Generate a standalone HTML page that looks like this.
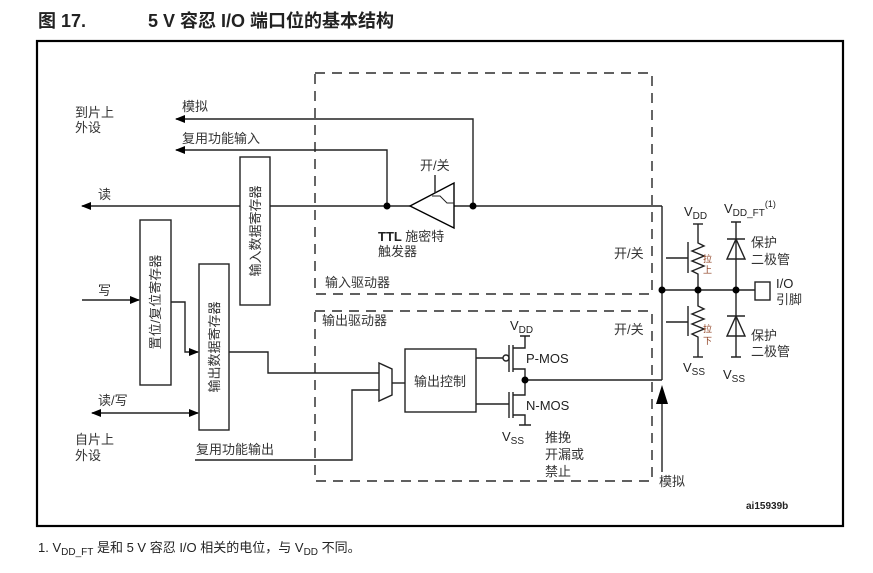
<!DOCTYPE html>
<html><head><meta charset="utf-8"><style>
body{margin:0;background:#fff;}
svg{display:block;}
text{font-family:"Liberation Sans","Noto Sans CJK SC",sans-serif;fill:#222;}
.c{font-size:13px;fill:#333;}
</style></head><body>
<svg width="873" height="573" viewBox="0 0 873 573" xmlns="http://www.w3.org/2000/svg">
<defs>
<marker id="a" markerWidth="10" markerHeight="8" refX="9" refY="4" orient="auto" markerUnits="userSpaceOnUse"><path d="M0,0 L10,4 L0,8z" fill="#000"/></marker>
<marker id="as" markerWidth="10" markerHeight="8" refX="1" refY="4" orient="auto" markerUnits="userSpaceOnUse"><path d="M10,0 L0,4 L10,8z" fill="#000"/></marker>
</defs>
<text x="38" y="27" font-size="18" font-weight="bold">图 17.</text>
<text x="148" y="27" font-size="18" font-weight="bold">5 V 容忍 I/O 端口位的基本结构</text>
<rect x="37" y="41" width="806" height="485" fill="none" stroke="#000" stroke-width="2.2"/>
<g fill="none" stroke="#000" stroke-width="1.2" stroke-dasharray="10,7">
<path d="M315,73 H652 V294 H315 Z"/>
<path d="M315,311 H652 V481 H315 Z"/>
</g>
<g fill="none" stroke="#222" stroke-width="1.4">
<path d="M473,206 V119 H176" marker-end="url(#a)"/>
<path d="M387,206 V150 H176" marker-end="url(#a)"/>
<line x1="410" y1="206" x2="82" y2="206" marker-end="url(#a)"/>
<line x1="454" y1="206" x2="662" y2="206"/>
<line x1="662" y1="206" x2="662" y2="380"/>
<path d="M410,206 L454,183 L454,228 Z" stroke="#000"/>
<path d="M435,193 V175" />
<path d="M432,196 H440 L447,203 H454 M440,196 L447,203" stroke-width="1"/>
<line x1="82" y1="300" x2="139" y2="300" marker-end="url(#a)"/>
<path d="M171,302 H185 V352 H198" marker-end="url(#a)"/>
<line x1="92" y1="413" x2="198" y2="413" marker-end="url(#a)" marker-start="url(#as)"/>
<path d="M229,352 H268 V373 H379"/>
<path d="M195,460 H352 V390 H379"/>
<path d="M379,363 L392,369 L392,395 L379,401 Z"/>
<line x1="392" y1="383" x2="405" y2="383"/>
<rect x="405" y="349" width="71" height="63"/>
<path d="M476,358 H503"/>
<circle cx="506" cy="358" r="3"/>
<path d="M509,345 V372 M513,345 V372 M513,348 H525 V336 M520,336 H530 M513,369 H525 V380"/>
<path d="M476,404 H509 M509,392 V418 M513,392 V418 M513,395 H525 V380 M513,415 H525 V425 M519,425 H531"/>
<line x1="525" y1="380" x2="662" y2="380"/>
<line x1="662" y1="472" x2="662" y2="395"/>
<line x1="662" y1="290" x2="755" y2="290"/>
<rect x="755" y="282" width="15" height="18"/>
<path d="M698,224 V243 L704,246 L692,251 L704,256 L692,261 L704,266 L692,271 L698,274 V290"/>
<path d="M693,224 H703"/>
<path d="M688,242 V273 M688,258 H666" />
<path d="M698,290 V306 L704,309 L692,314 L704,319 L692,324 L704,329 L692,334 L698,337 V357"/>
<path d="M693,357 H703"/>
<path d="M688,306 V336 M688,322 H666"/>
<path d="M736,222 V290 M731,222 H741 M727,239 H745 M736,239 L727,259 H745 Z"/>
<path d="M736,290 V357 M731,357 H741 M727,316 H745 M736,316 L727,336 H745 Z"/>
</g>
<g fill="#000">
<circle cx="387" cy="206" r="3.5"/><circle cx="473" cy="206" r="3.5"/>
<circle cx="525" cy="380" r="3.5"/>
<circle cx="662" cy="290" r="3.5"/><circle cx="698" cy="290" r="3.5"/><circle cx="736" cy="290" r="3.5"/>
<path d="M656,404 L662,385 L668,404 Z"/>
</g>
<g fill="#fff" stroke="#222" stroke-width="1.4">
<rect x="240" y="157" width="30" height="148"/>
<rect x="140" y="220" width="31" height="165"/>
<rect x="199" y="264" width="30" height="166"/>
</g>
<text class="c" transform="translate(260,231) rotate(-90)" text-anchor="middle">输入数据寄存器</text>
<text class="c" transform="translate(160,302) rotate(-90)" text-anchor="middle">置位/复位寄存器</text>
<text class="c" transform="translate(219,347) rotate(-90)" text-anchor="middle">输出数据寄存器</text>
<g>
<text class="c" x="75" y="117">到片上</text><text class="c" x="75" y="132">外设</text>
<text class="c" x="182" y="111">模拟</text>
<text class="c" x="182" y="143">复用功能输入</text>
<text class="c" x="98" y="199">读</text>
<text class="c" x="98" y="295">写</text>
<text class="c" x="98" y="405">读/写</text>
<text class="c" x="75" y="444">自片上</text><text class="c" x="75" y="460">外设</text>
<text class="c" x="196" y="454">复用功能输出</text>
<text class="c" x="420" y="170">开/关</text>
<text x="378" y="241" font-size="13" font-weight="bold">TTL <tspan font-weight="normal" fill="#333">施密特</tspan></text>
<text class="c" x="378" y="256">触发器</text>
<text class="c" x="325" y="287">输入驱动器</text>
<text class="c" x="322" y="325">输出驱动器</text>
<text class="c" x="414" y="386">输出控制</text>
<text class="c" x="614" y="258">开/关</text>
<text class="c" x="614" y="334">开/关</text>
<text class="c" x="545" y="442">推挽</text>
<text class="c" x="545" y="459">开漏或</text>
<text class="c" x="545" y="476">禁止</text>
<text class="c" x="659" y="486">模拟</text>
<text class="c" x="751" y="247">保护</text><text class="c" x="751" y="264">二极管</text>
<text class="c" x="751" y="340">保护</text><text class="c" x="751" y="356">二极管</text>
<text class="c" x="776" y="288" style="fill:#222">I/O</text><text class="c" x="776" y="304">引脚</text>
</g>
<text x="703" y="262" font-size="9" style="fill:#8b3a1a">拉</text>
<text x="703" y="273" font-size="9" style="fill:#8b3a1a">上</text>
<text x="703" y="332" font-size="9" style="fill:#8b3a1a">拉</text>
<text x="703" y="344" font-size="9" style="fill:#8b3a1a">下</text>
<g font-size="13">
<text x="684" y="216">V<tspan font-size="10" dy="3">DD</tspan></text>
<text x="724" y="213">V<tspan font-size="10" dy="3">DD_FT</tspan><tspan font-size="9" dy="-9">(1)</tspan></text>
<text x="683" y="372">V<tspan font-size="10" dy="3">SS</tspan></text>
<text x="723" y="379">V<tspan font-size="10" dy="3">SS</tspan></text>
<text x="510" y="330">V<tspan font-size="10" dy="3">DD</tspan></text>
<text x="526" y="363">P-MOS</text>
<text x="526" y="410">N-MOS</text>
<text x="502" y="441">V<tspan font-size="10" dy="3">SS</tspan></text>
<text x="746" y="509" font-size="10" font-weight="bold">ai15939b</text>
</g>
<text x="38" y="552" font-size="13">1.   V<tspan font-size="10" dy="3">DD_FT</tspan><tspan dy="-3"> 是和 5 V 容忍 I/O 相关的电位，与 V</tspan><tspan font-size="10" dy="3">DD</tspan><tspan dy="-3"> 不同。</tspan></text>
</svg>
</body></html>
